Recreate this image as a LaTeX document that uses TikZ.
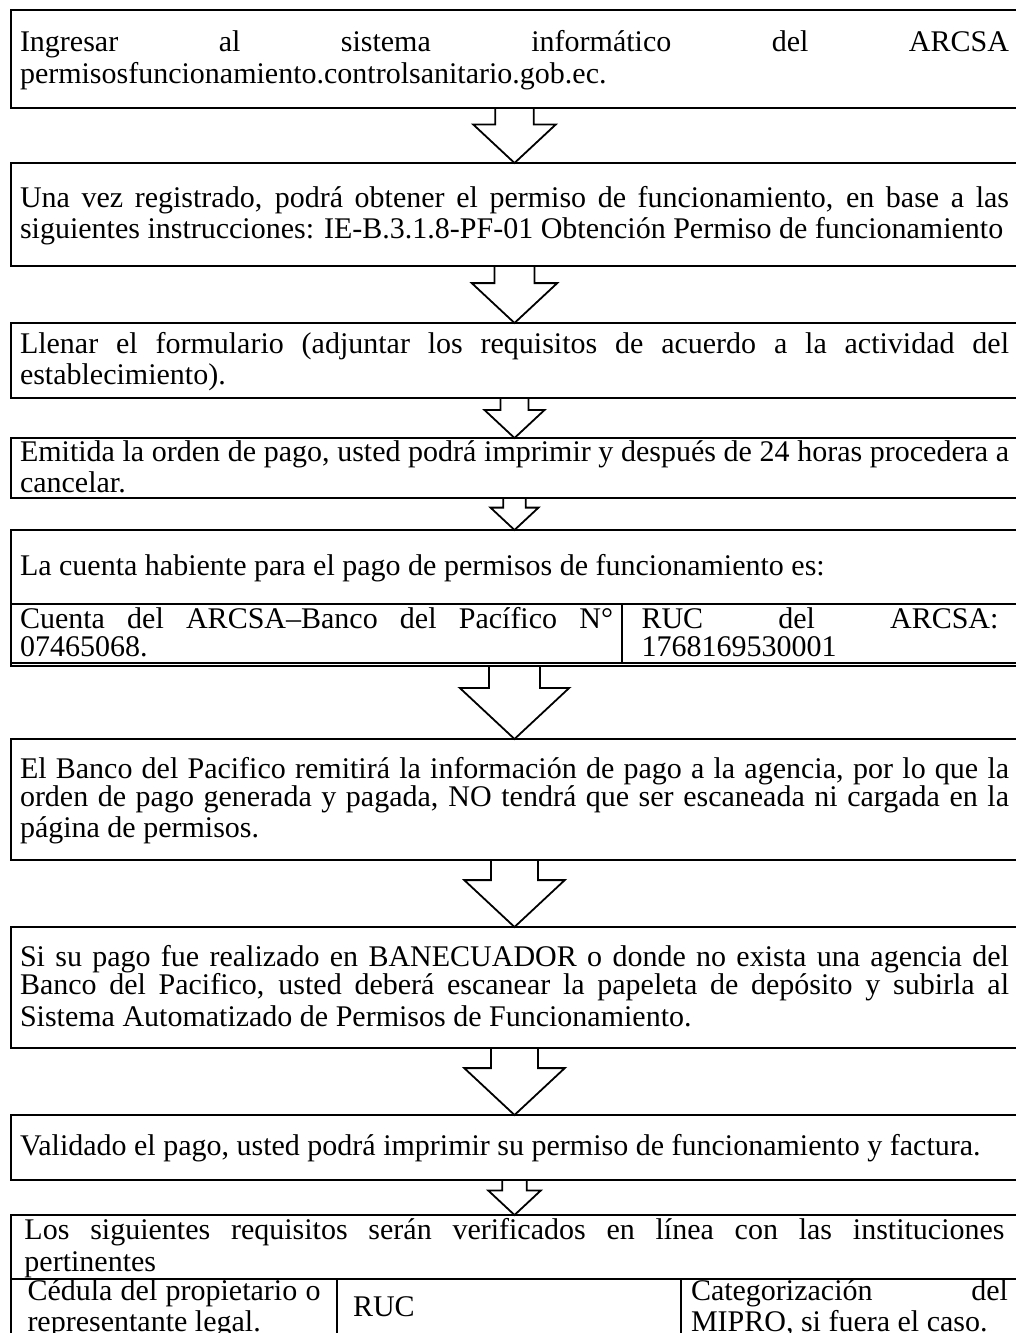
\documentclass[tikz,border=0pt]{standalone}
\usepackage{fontspec}
\setmainfont{Liberation Serif}
\usetikzlibrary{calc}
\tolerance=10000
\hbadness=10000
\hfuzz=20pt
\hyphenpenalty=10000
\exhyphenpenalty=10000
\newcommand{\lin}{\rule[-2.5pt]{0pt}{14pt}}
\newcommand{\linbajo}{\rule[-2.5pt]{0pt}{13pt}}
\newcommand{\flecha}[2]{%
  \draw[bloque] let \p1=(#1.south), \p2=(#2.north), \n1={\y1-\y2} in
    (\x2-0.35*\n1,\y1) -- (\x2-0.35*\n1,\y1-0.3*\n1) -- (\x2-0.75*\n1,\y1-0.3*\n1)
    -- (\x2,\y2) -- (\x2+0.75*\n1,\y1-0.3*\n1) -- (\x2+0.35*\n1,\y1-0.3*\n1)
    -- (\x2+0.35*\n1,\y1);}
\tikzset{
  caja/.style={draw, line width=1pt, anchor=north, outer sep=0pt, inner xsep=4.5pt,
    inner ysep=0pt, text width=494.5pt, align=justify,
    font={\fontsize{15}{14}\selectfont\parindent=0pt}},
  celda/.style={caja, anchor=north west},
  bloque/.style={line width=0.9pt, line join=miter},
}
\begin{document}
\begin{tikzpicture}[x=0.5pt,y=0.5pt]
  \fill[white] (0,0) rectangle (1016,-1333);
  \clip (0,0) rectangle (1016,-1333);
  \node[caja, minimum height=49pt] (ingreso) at (514.5,-10)
    {\lin Ingresar al sistema informático del ARCSA\linebreak permisosfuncionamiento.controlsanitario.gob.ec.\lin};
  \node[caja, minimum height=51.5pt] (registro) at (514.5,-163)
    {\lin Una vez registrado, podrá obtener el permiso de funcionamiento, en base a las\linebreak siguientes instrucciones: IE-B.3.1.8-PF-01 Obtención Permiso de funcionamiento\lin};
  \node[caja, minimum height=37.5pt] (formulario) at (514.5,-323)
    {\lin Llenar el formulario (adjuntar los requisitos de acuerdo a la actividad del\linebreak establecimiento).\lin};
  \node[caja, minimum height=30pt] (orden) at (514.5,-438)
    {\lin Emitida la orden de pago, usted podrá imprimir y después de 24 horas procedera a\linebreak cancelar.\lin};
  \node[caja, minimum height=68pt] (pago) at (514.5,-530) {};
  \node[caja, draw=none, minimum height=37pt] (cuenta) at (514.5,-530)
    {\lin La cuenta habiente para el pago de permisos de funcionamiento es:\lin};
  \node[celda, text width=296.5pt, minimum height=29.5pt] (cta) at (11,-604)
    {\lin Cuenta del ARCSA–Banco del Pacífico N°\linebreak 07465068.\lin};
  \node[celda, text width=178.5pt, inner xsep=9.75pt, minimum height=29.5pt] (rucarcsa) at (cta.north east)
    {\lin RUC del ARCSA:\linebreak 1768169530001\lin};
  \node[caja, minimum height=60.5pt] (banco) at (514.5,-739)
    {\lin El Banco del Pacifico remitirá la información de pago a la agencia, por lo que la\linebreak orden de pago generada y pagada, NO tendrá que ser escaneada ni cargada en la\linebreak página de permisos.\lin};
  \node[caja, minimum height=60.5pt] (banecuador) at (514.5,-927)
    {\lin Si su pago fue realizado en BANECUADOR o donde no exista una agencia del\linebreak Banco del Pacifico, usted deberá escanear la papeleta de depósito y subirla al\linebreak Sistema Automatizado de Permisos de Funcionamiento.\lin};
  \node[caja, minimum height=32.5pt] (validado) at (514.5,-1115)
    {\lin Validado el pago, usted podrá imprimir su permiso de funcionamiento y factura.\lin};
  \node[caja, text width=490pt, inner xsep=6.75pt, minimum height=32pt] (requisitos) at (514.5,-1215)
    {\lin Los siguientes requisitos serán verificados en línea con las instituciones\linebreak pertinentes\lin};
  \node[celda, text width=146.5pt, inner xsep=8.25pt] (cedula) at (11,-1279)
    {\linbajo Cédula del propietario o\linebreak representante legal.\lin};
  \node[celda, text width=156pt, inner xsep=8pt, minimum height=28pt] (rucreq) at (cedula.north east)
    {\lin RUC\lin};
  \node[celda, text width=158.5pt, inner xsep=5pt, minimum height=28pt] (mipro) at (rucreq.north east)
    {\linbajo Categorización del\linebreak MIPRO, si fuera el caso.\lin};
  \flecha{ingreso}{registro}
  \flecha{registro}{formulario}
  \flecha{formulario}{orden}
  \flecha{orden}{pago}
  \flecha{pago}{banco}
  \flecha{banco}{banecuador}
  \flecha{banecuador}{validado}
  \flecha{validado}{requisitos}
\end{tikzpicture}
\end{document}
